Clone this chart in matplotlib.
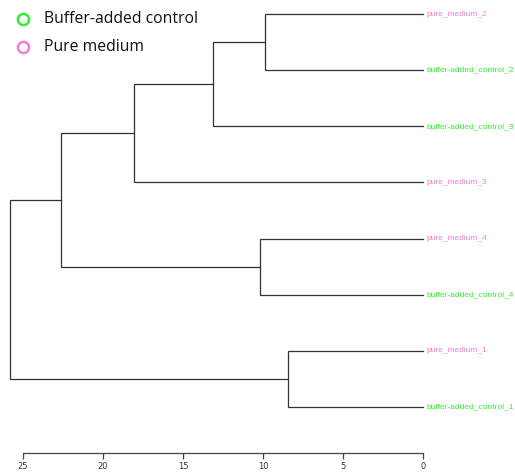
import matplotlib
matplotlib.use("Agg")
import matplotlib.pyplot as plt

# leaves top to bottom
leaves = ["pure_medium_2", "buffer-added_control_2", "buffer-added_control_3",
          "pure_medium_3", "pure_medium_4", "buffer-added_control_4",
          "pure_medium_1", "buffer-added_control_1"]
groups = ["pure", "buffer", "buffer", "pure", "pure", "buffer", "pure", "buffer"]
# merges: (left child, right child, height); children index leaves 0..7, clusters 8..
merges = [(0, 1, 9.9),     # 8
          (8, 2, 13.1),    # 9
          (9, 3, 18.05),   # 10
          (4, 5, 10.2),    # 11
          (10, 11, 22.6),  # 12
          (6, 7, 8.45),    # 13
          (12, 13, 25.8)]  # 14
ticks = [25, 20, 15, 10, 5, 0]
legend_labels = ["Buffer-added control", "Pure medium"]

colors = {"buffer": "#33ee33", "pure": "#f07ed8"}
W, H = 515, 475
fig = plt.figure(figsize=(W / 100, H / 100), dpi=100)
x0, x1 = 10, 423
ytop, ybot = 14, 453
ax = fig.add_axes([x0 / W, 1 - ybot / H, (x1 - x0) / W, (ybot - ytop) / H])
ax.set_xlim(25.8, 0)
ax.set_ylim(7.82, 0)

pos = {i: (0.0, float(i)) for i in range(len(leaves))}
lc = "#333333"
for k, (a, b, h) in enumerate(merges):
    xa, ya = pos[a]
    xb, yb = pos[b]
    ax.plot([xa, h, h, xb], [ya, ya, yb, yb], color=lc, lw=0.9,
            solid_joinstyle="miter", clip_on=False)
    pos[len(leaves) + k] = (h, (ya + yb) / 2)

for i, (name, g) in enumerate(zip(leaves, groups)):
    ax.text(-0.22, i, name, color=colors[g], fontsize=6.0, va="center", ha="left",
            family="Liberation Sans", clip_on=False)

for s in ["top", "left", "right"]:
    ax.spines[s].set_visible(False)
ax.spines["bottom"].set_bounds(25, 0)
ax.spines["bottom"].set_color("#444444")
ax.spines["bottom"].set_linewidth(0.9)
ax.set_yticks([])
ax.set_xticks(ticks)
ax.set_xticklabels([str(t) for t in ticks])
ax.tick_params(axis="x", length=4, width=0.9, color="#444444", labelsize=6,
               labelcolor="#333333", pad=2.5)

# legend
for j, (lab, g) in enumerate(zip(legend_labels, ["buffer", "pure"])):
    yy = 1 - (19 + 28 * j) / H
    fig.lines.append(plt.Line2D([23 / W], [yy], marker="o", markersize=8, mfc="none",
                                mec=colors[g], mew=1.8, transform=fig.transFigure))
    fig.text(44 / W, yy, lab, fontsize=11.3, va="center", ha="left",
             color="#111111", family="Open Sans")

fig.savefig("out.png", dpi=100)
